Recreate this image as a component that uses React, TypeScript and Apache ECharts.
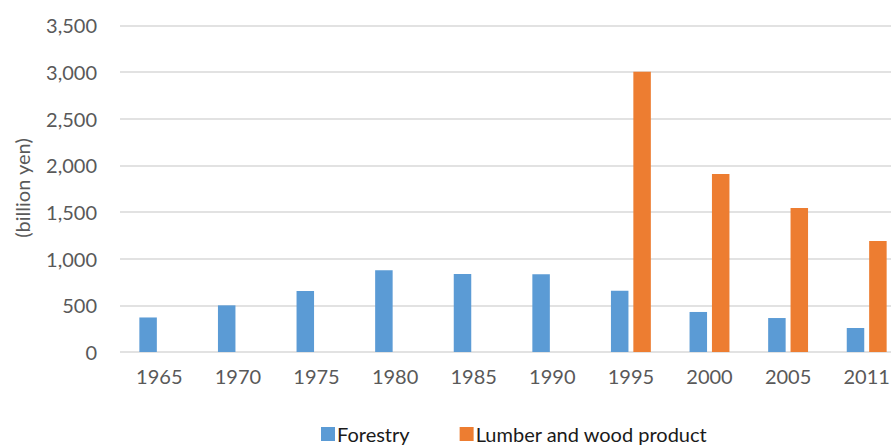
import React, { useEffect, useRef } from "react";
import * as echarts from "echarts";

const categories = ["1965", "1970", "1975", "1980", "1985", "1990", "1995", "2000", "2005", "2011"];
const forestry = [370, 500, 655, 875, 835, 832, 657, 429, 364, 257];
const lumber = [null, null, null, null, null, null, 3003, 1907, 1543, 1189];
const seriesNames = ["Forestry", "Lumber and wood product"];
const yAxisTitle = "(billion yen)";

const FONT = "Lato, 'Open Sans', sans-serif";

export default function App() {
  const ref = useRef<HTMLDivElement>(null);
  useEffect(() => {
    if (!ref.current) return;
    const chart = echarts.init(ref.current, undefined, { renderer: "svg" });
    chart.setOption({
      animation: false,
      backgroundColor: "#ffffff",
      textStyle: { fontFamily: FONT },
      grid: { left: 120, right: 0, top: 25.4, bottom: 96, containLabel: false },
      legend: {
        left: 316,
        top: 419,
        itemWidth: 14,
        itemHeight: 14,
        itemGap: 50,
        icon: "rect",
        textStyle: { fontFamily: FONT, fontSize: 20, color: "#1a1a1a", padding: [0, 0, 0, -3] },
        data: seriesNames,
      },
      xAxis: {
        type: "category",
        data: categories,
        axisLine: { show: false },
        axisTick: { show: false },
        axisLabel: { fontFamily: FONT, fontSize: 20, color: "#595959", margin: 14 },
      },
      yAxis: {
        type: "value",
        min: 0,
        max: 3500,
        interval: 500,
        axisLine: { show: false },
        axisTick: { show: false },
        splitLine: { lineStyle: { color: "#d9d9d9", width: 1.5 } },
        axisLabel: {
          fontFamily: FONT,
          fontSize: 20,
          color: "#595959",
          margin: 23,
          formatter: (v: number) => v.toLocaleString("en-US"),
        },
      },
      graphic: [
        {
          type: "text",
          x: 22,
          y: 188,
          rotation: Math.PI / 2,
          style: {
            text: yAxisTitle,
            fontFamily: FONT,
            fontSize: 20,
            fill: "#595959",
            align: "center",
            verticalAlign: "middle",
          },
        },
      ],
      series: [
        {
          name: seriesNames[0],
          type: "bar",
          data: forestry,
          barWidth: 17.5,
          barGap: "28%",
          itemStyle: { color: "#5B9BD5" },
        },
        {
          name: seriesNames[1],
          type: "bar",
          data: lumber,
          barWidth: 17.5,
          barGap: "28%",
          itemStyle: { color: "#ED7D31" },
        },
      ],
    });
    return () => chart.dispose();
  }, []);
  return (
    <div style={{ position: "fixed", left: 0, top: 0, width: 891, height: 448, overflow: "hidden", background: "#fff" }}>
      <div ref={ref} style={{ width: 906, height: 448 }} />
    </div>
  );
}
